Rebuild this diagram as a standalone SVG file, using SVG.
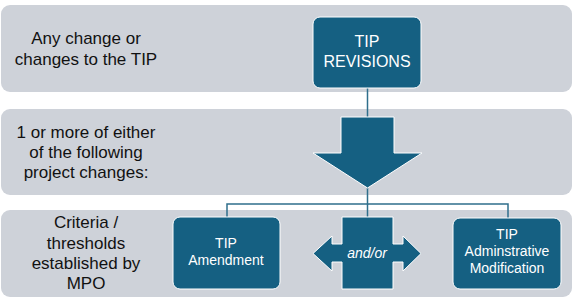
<svg xmlns="http://www.w3.org/2000/svg" width="573" height="305" viewBox="0 0 573 305">
<style>
.band{fill:#CED2D9}
.node{fill:#156082;stroke:#FFFFFF;stroke-width:1}
.lbl{font-family:"Liberation Sans",Arial,sans-serif;fill:#111111;font-size:17px;text-anchor:middle}
.wt{font-family:"Liberation Sans",Arial,sans-serif;fill:#FFFFFF;text-anchor:middle}
.con{fill:none;stroke:#2F6F8C;stroke-width:1.5}
</style>
<rect width="573" height="305" fill="#FFFFFF"/>
<g id="bands">
<rect class="band" x="1" y="5" width="571" height="87" rx="9"/>
<rect class="band" x="1" y="109" width="571" height="86" rx="9"/>
<rect class="band" x="1" y="210" width="571" height="87" rx="9"/>
</g>
<g id="labels">
<text class="lbl" x="86" y="44">Any change or</text>
<text class="lbl" x="86" y="65">changes to the TIP</text>
<text class="lbl" x="86" y="138">1 or more of either</text>
<text class="lbl" x="86" y="158">of the following</text>
<text class="lbl" x="86" y="178">project changes:</text>
<text class="lbl" x="86" y="228">Criteria  /</text>
<text class="lbl" x="86" y="249">thresholds</text>
<text class="lbl" x="86" y="269">established by</text>
<text class="lbl" x="86" y="289">MPO</text>
</g>
<g id="connectors">
<line class="con" x1="367.5" y1="88" x2="367.5" y2="117"/>
<polyline class="con" points="367.5,188 367.5,204 227,204 227,217"/>
<polyline class="con" points="367.5,204 508,204 508,218"/>
<line class="con" x1="367.5" y1="204" x2="367.5" y2="217"/>
</g>
<g id="tip-revisions">
<rect class="node" x="313" y="17" width="108" height="71" rx="7"/>
<text class="wt" font-size="16" x="367" y="47">TIP</text>
<text class="wt" font-size="16" x="367" y="67">REVISIONS</text>
</g>
<g id="down-arrow">
<polygon class="node" points="341,117 394,117 394,153 422,153 367.5,188 313,153 341,153"/>
</g>
<g id="tip-amendment">
<rect class="node" x="173" y="217" width="107" height="72" rx="7"/>
<text class="wt" font-size="14" x="226" y="248">TIP</text>
<text class="wt" font-size="14" x="226" y="265">Amendment</text>
</g>
<g id="and-or">
<polygon class="node" points="342,217 393,217 393,244 403,244 403,236 421,253.5 403,271 403,262 393,262 393,289 342,289 342,262 332,262 332,271 313,253.5 332,236 332,244 342,244"/>
<text class="wt" font-size="14" font-style="italic" x="367" y="258">and/or</text>
</g>
<g id="tip-admin-mod">
<rect class="node" x="453" y="218" width="108" height="71" rx="7"/>
<text class="wt" font-size="14" x="507" y="239">TIP</text>
<text class="wt" font-size="14" x="507" y="256">Adminstrative</text>
<text class="wt" font-size="14" x="507" y="273">Modification</text>
</g>
</svg>
